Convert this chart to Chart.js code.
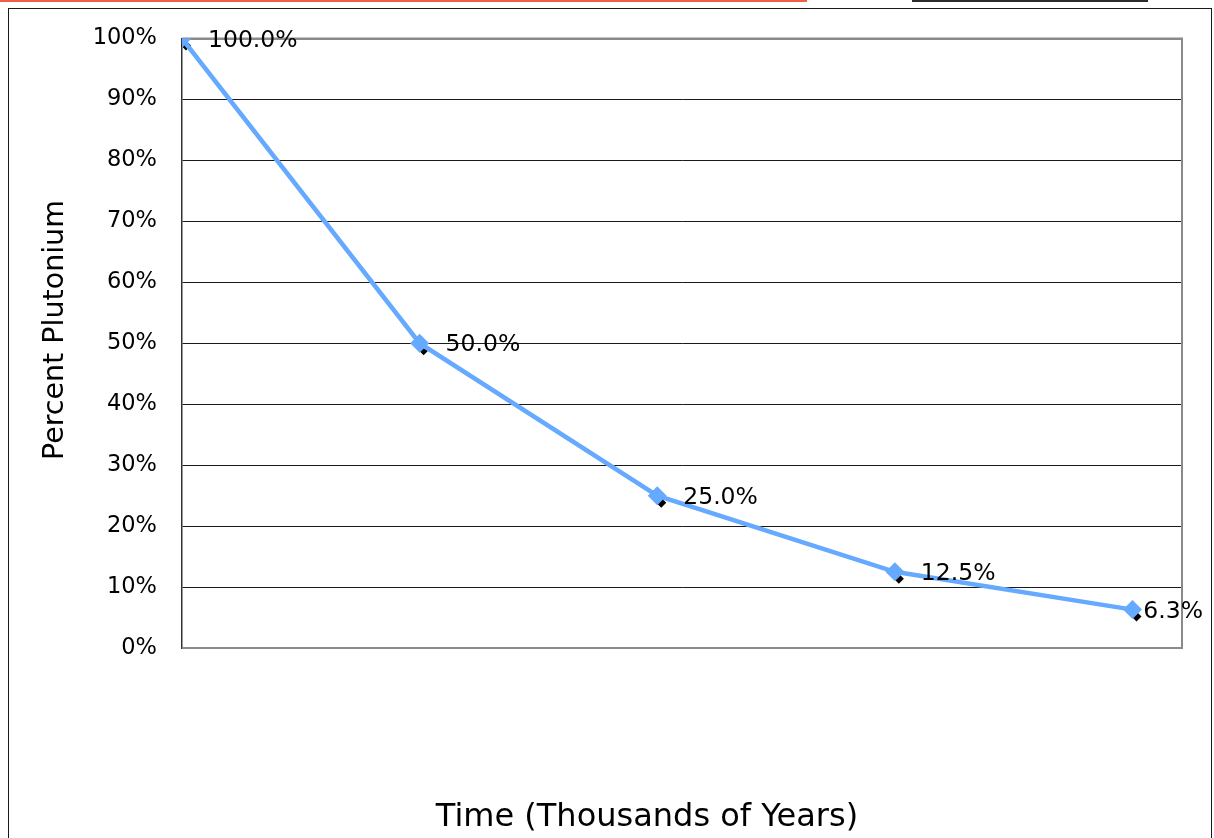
<!DOCTYPE html>
<html>
<head>
<meta charset="utf-8">
<title>Percent Plutonium over Time</title>
<script src="https://cdn.jsdelivr.net/npm/chart.js@4.4.1/dist/chart.umd.min.js"></script>
<style>
  html, body { margin: 0; padding: 0; background: #fff; overflow: hidden; }
  #page { position: relative; width: 1214px; height: 838px; overflow: hidden; }
  #topRule { position: absolute; left: 0; top: 0; width: 807px; height: 2px; background: #ee5f48; }
  #topBar { position: absolute; left: 912px; top: 0; width: 236px; height: 2px; background: #2b2b2b; }
  #frame { position: absolute; left: 8px; top: 8px; width: 1204px; height: 900px; border: 1.5px solid #1a1a1a; box-sizing: border-box; }
  #chart { position: absolute; left: 0; top: 0; }
</style>
</head>
<body>
<div id="page">
  <div id="topRule"></div>
  <div id="topBar"></div>
  <div id="frame"></div>
  <canvas id="chart" width="1214" height="838"></canvas>
</div>
<script>
// Elapsed time, thousands of years (one Pu-239 half-life per step)
const years = [0, 24, 48, 72, 96];
// Share of the original plutonium remaining, percent
const remaining = [100, 50, 25, 12.5, 6.3];
// Vertical axis ticks, percent
const yTicks = [0, 10, 20, 30, 40, 50, 60, 70, 80, 90, 100];

const xTitle = 'Time (Thousands of Years)';
const yTitle = 'Percent Plutonium';

const FONT = '"DejaVu Sans", Verdana, sans-serif';
const BLUE = '#66aaff';
const FRAME_GREY = '#8a8a8a';

const points = years.map((x, i) => ({ x: x, y: remaining[i] }));

// Diamond helper used for the small dark marker shadows
function diamond(ctx, x, y, r) {
  ctx.beginPath();
  ctx.moveTo(x, y - r);
  ctx.lineTo(x + r, y);
  ctx.lineTo(x, y + r);
  ctx.lineTo(x - r, y);
  ctx.closePath();
  ctx.fill();
}

// Plot frame (top/right/bottom in grey) and the dark marker shadows
const framePlugin = {
  id: 'plotFrame',
  beforeDatasetsDraw(chart) {
    const { ctx, chartArea: a } = chart;
    ctx.save();
    ctx.strokeStyle = FRAME_GREY;
    ctx.lineWidth = 2;
    ctx.beginPath();
    ctx.moveTo(a.left, a.top);
    ctx.lineTo(a.right, a.top);
    ctx.lineTo(a.right, a.bottom);
    ctx.lineTo(a.left, a.bottom);
    ctx.stroke();
    ctx.fillStyle = '#000';
    chart.getDatasetMeta(0).data.forEach(el => diamond(ctx, el.x + 4, el.y + 7, 5));
    ctx.restore();
  }
};

// Value labels beside each point, plus both axis captions
const labelPlugin = {
  id: 'valueLabels',
  afterDatasetsDraw(chart) {
    const { ctx, width } = chart;
    ctx.save();
    ctx.font = '23.5px ' + FONT;
    ctx.fillStyle = '#000';
    ctx.textBaseline = 'middle';
    ctx.textAlign = 'left';
    const ds = chart.data.datasets[0];
    chart.getDatasetMeta(0).data.forEach((el, i) => {
      const txt = ds.data[i].y.toFixed(1) + '%';
      const w = ctx.measureText(txt).width;
      let x = el.x + 26;
      if (x + w > width - 11) x = width - 11 - w;
      ctx.fillText(txt, x, el.y + 2);
    });
    ctx.textAlign = 'center';
    ctx.font = '32px ' + FONT;
    ctx.fillText(xTitle, 647, 818);
    ctx.translate(56, 330);
    ctx.rotate(-Math.PI / 2);
    ctx.font = '28.5px ' + FONT;
    ctx.fillText(yTitle, 0, 0);
    ctx.restore();
  }
};

new Chart(document.getElementById('chart'), {
  type: 'line',
  data: {
    datasets: [{
      label: yTitle,
      data: points,
      borderColor: BLUE,
      backgroundColor: BLUE,
      borderWidth: 4.5,
      pointStyle: 'rectRot',
      pointRadius: 9.5,
      pointBorderWidth: 0,
      pointBackgroundColor: BLUE,
      tension: 0
    }]
  },
  plugins: [framePlugin, labelPlugin],
  options: {
    responsive: false,
    animation: false,
    devicePixelRatio: 1,
    layout: { padding: { left: 0, top: 37, right: 32, bottom: 0 } },
    plugins: {
      legend: { display: false },
      tooltip: { enabled: false }
    },
    scales: {
      x: {
        type: 'linear',
        min: years[0],
        max: 101,
        ticks: { display: false },
        grid: { display: false, drawTicks: false },
        border: { display: true, color: FRAME_GREY, width: 2 },
        afterFit(scale) { scale.height = 190; }
      },
      y: {
        min: yTicks[0],
        max: yTicks[yTicks.length - 1],
        afterBuildTicks(scale) { scale.ticks = yTicks.map(v => ({ value: v })); },
        ticks: {
          padding: 25,
          color: '#000',
          font: { family: FONT, size: 22.5 },
          callback: v => v + '%'
        },
        grid: {
          drawTicks: false,
          color: c => (c.tick && (c.tick.value === 0 || c.tick.value === 100)) ? FRAME_GREY : '#1a1a1a',
          lineWidth: c => (c.tick && (c.tick.value === 0 || c.tick.value === 100)) ? 2 : 1
        },
        border: { display: true, color: '#333', width: 1.5 },
        afterFit(scale) { scale.width = 182; }
      }
    }
  }
});
</script>
</body>
</html>
